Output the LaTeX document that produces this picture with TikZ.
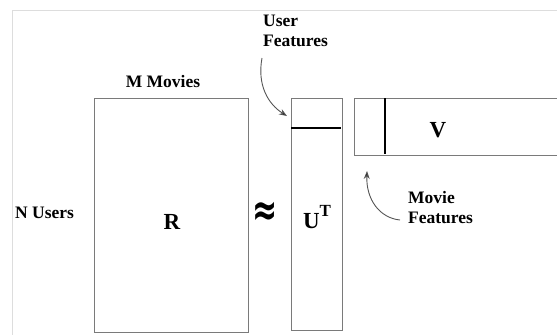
\documentclass[tikz,border=0pt]{standalone}
\usepackage{fontspec}
\setmainfont{Liberation Serif}
\newfontfamily\approxfont{DejaVu Sans}
\usetikzlibrary{arrows.meta}
\definecolor{framegray}{HTML}{DDDDDD}
\definecolor{boxgray}{HTML}{7A7A7A}
\definecolor{arrowgray}{HTML}{555555}
\tikzset{
  matbox/.style={draw=boxgray, line width=0.9bp, inner sep=0pt},
  lbl/.style={font=\bfseries\fontsize{17.5bp}{19bp}\selectfont, inner sep=0pt, align=left},
  biglbl/.style={font=\bfseries\fontsize{23bp}{26bp}\selectfont, inner sep=0pt},
  featline/.style={line width=2bp, black},
  pointer/.style={draw=arrowgray, line width=0.9bp, -{Stealth[length=8bp,width=6bp,fill=black]}}
}
\begin{document}
\begin{tikzpicture}[x=1bp,y=-1bp]
\useasboundingbox (0,0) rectangle (557,334);
\clip (0,0) rectangle (557,334);
\draw[framegray, line width=1bp] (12,10) rectangle (570,350);
% matrices
\node[matbox, minimum width=154bp, minimum height=234bp, anchor=north west] (R) at (94,98) {};
\node[matbox, minimum width=51bp, minimum height=232bp, anchor=north west] (U) at (291,98) {};
\node[matbox, minimum width=210bp, minimum height=57bp, anchor=north west] (V) at (354,98) {};
% feature lines
\coordinate (ul) at (291,128);
\coordinate (ur) at (341,128);
\draw[featline] (ul) -- (ur);
\coordinate (vt) at (385,98);
\coordinate (vb) at (385,154);
\draw[featline] (vt) -- (vb);
% labels
\node[lbl] (mmovies) at (163,82) {M Movies};
\node[lbl, anchor=west] (nusers) at (15,213) {N Users};
\node[biglbl] (rlab) at (172,222) {R};
\node[inner sep=0pt] (approxsign) at (265,214) {\scalebox{1}[1.5]{\approxfont\bfseries\fontsize{30bp}{30bp}\selectfont ≈}};
\node[biglbl] (ulab) at (317,217) {U\raisebox{0.5em}{\fontsize{17bp}{17bp}\selectfont T}};
\node[biglbl] (vlab) at (438,130) {V};
\node[lbl, anchor=north west] (ufeat) at (263,15) {User\\[1bp]Features};
\node[lbl, anchor=north west] (mfeat) at (408,191) {Movie\\[1bp]Features};
% pointers
\coordinate (us) at (262,58);
\coordinate (ut) at (287,116);
\draw[pointer] (us) .. controls (257,85) and (268,104) .. (ut);
\coordinate (ms) at (400,220);
\coordinate (mt) at (367,171);
\draw[pointer] (ms) .. controls (380,218) and (366,200) .. (mt);
\end{tikzpicture}
\end{document}
